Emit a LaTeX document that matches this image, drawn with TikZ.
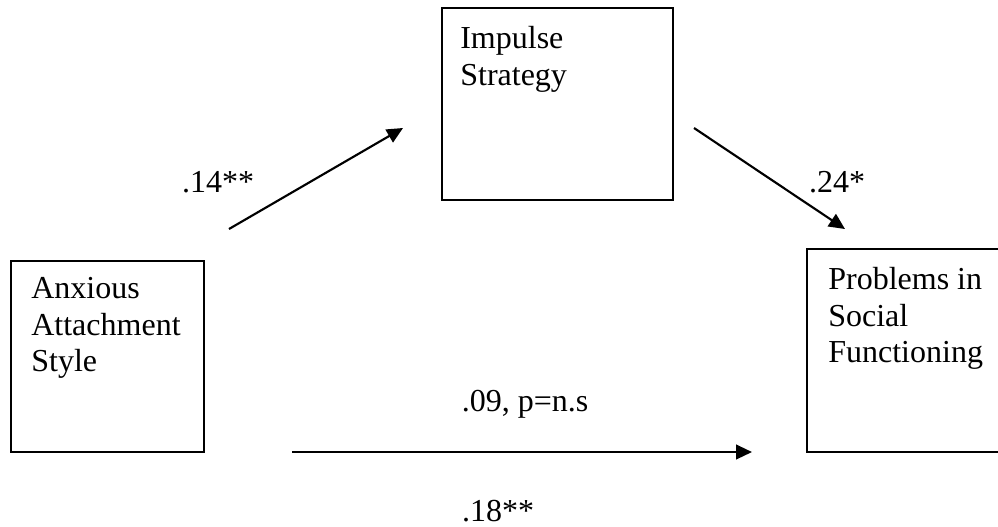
\documentclass[tikz,border=0pt]{standalone}
\usepackage{fontspec}
\setmainfont{Liberation Serif}
\usetikzlibrary{arrows.meta,positioning,calc}
\begin{document}
\begin{tikzpicture}[
  x=0.75pt,y=-0.75pt,
  font=\fontsize{24}{27.4}\selectfont,
  box/.style 2 args={draw,line width=1.4pt,inner sep=0pt,minimum width=#1,minimum height=#2},
  boxtext/.style={anchor=north west,align=left,inner sep=0pt},
  coef/.style={anchor=base,inner sep=0pt},
  flow/.style={-{Triangle[length=12pt,width=11pt]},line width=1.6pt}
]
\fill[white] (0,0) rectangle (998,526);
\useasboundingbox (0,0) rectangle (998,526);
\node[box={144.75pt}{143.25pt}] (anx) at (107.5,356.5) {};
\node[box={173.25pt}{144pt}] (imp) at (557.5,104) {};
\node[box={161.25pt}{152.25pt}] (soc) at (914.5,350.5) {};
\node[boxtext] (anxt) at ([shift={(21,17)}]anx.north west) {Anxious\\Attachment\\Style};
\node[boxtext] (impt) at ([shift={(19,19)}]imp.north west) {Impulse\\Strategy};
\node[boxtext] (soct) at ([shift={(22,19)}]soc.north west) {Problems in\\Social\\Functioning};
\coordinate (a1) at (229,229);
\coordinate (a2) at (403,128);
\coordinate (b1) at (694,128);
\coordinate (b2) at (845,229);
\coordinate (c1) at (292,452);
\coordinate (c2) at (752,452);
\draw[flow] (a1) -- (a2);
\draw[flow] (b1) -- (b2);
\draw[flow] (c1) -- (c2);
\node[coef] (ca) at (218,192) {.14**};
\node[coef] (cb) at (837,192) {.24*};
\node[coef] (cc) at (525,411) {.09, p=n.s};
\node[coef] (cd) at (498,521) {.18**};
\end{tikzpicture}
\end{document}
